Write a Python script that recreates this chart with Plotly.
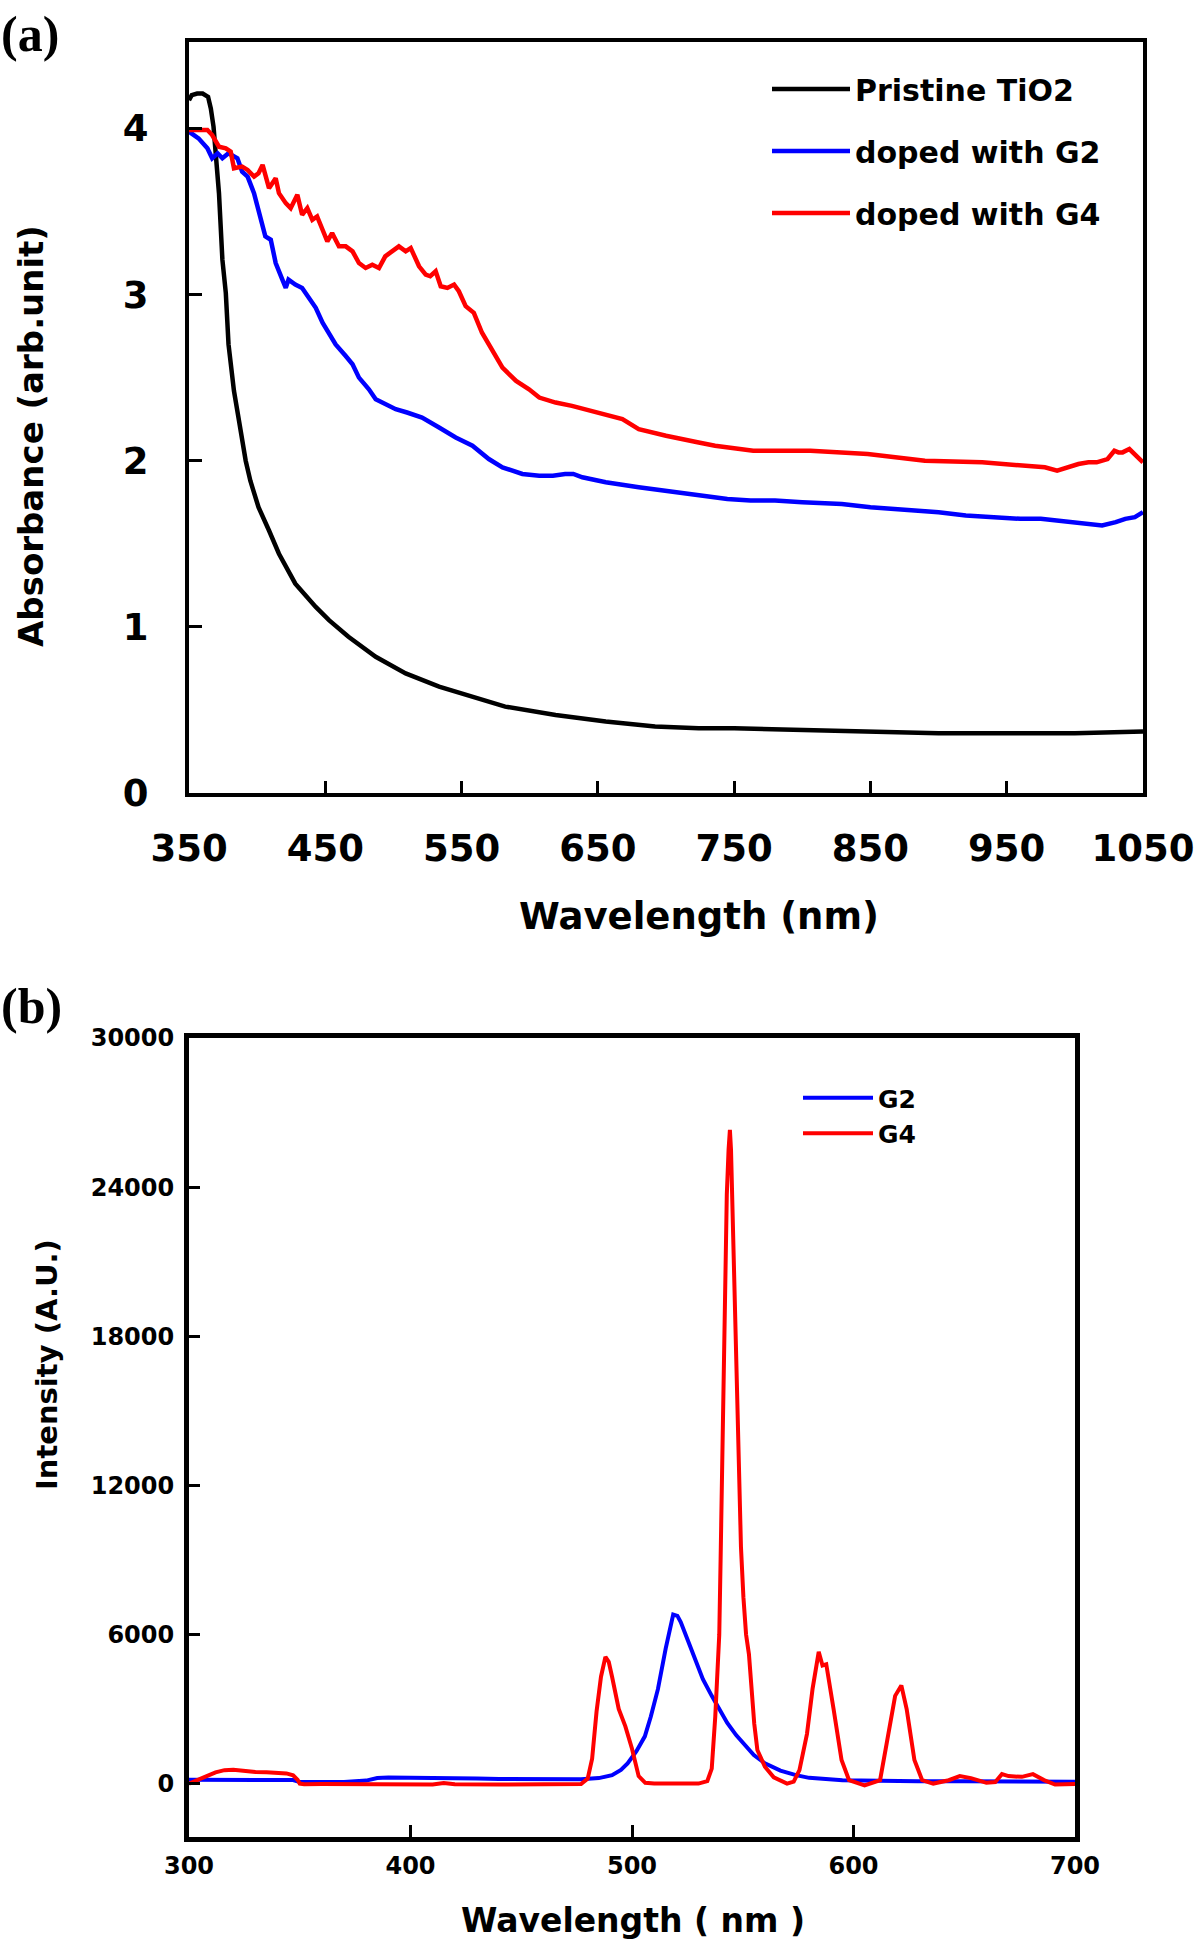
import plotly.graph_objects as go

W, H = 1200, 1945

# ---------------- Panel (a): absorbance ----------------
pristine_wl = [350, 352, 356, 360, 364, 366, 368, 370, 372, 374.5, 377, 379, 381.8, 383, 386.7, 391.6,
               395, 401, 408.7, 416, 428, 443, 452.7, 467, 487, 509, 533.5, 563, 582, 619, 655.8, 692,
               724, 750, 800, 850, 900, 950, 1000, 1050]
pristine_abs = [4.17, 4.20, 4.21, 4.21, 4.19, 4.12, 4.01, 3.80, 3.61, 3.21, 3.01, 2.70, 2.48, 2.42, 2.24,
                2.00, 1.88, 1.72, 1.58, 1.44, 1.26, 1.12, 1.04, 0.94, 0.82, 0.72, 0.64, 0.57, 0.52, 0.47,
                0.43, 0.40, 0.39, 0.39, 0.38, 0.37, 0.36, 0.36, 0.36, 0.37]

g2_wl = [350, 357, 363.5, 367, 371, 374.5, 379, 385.5, 389, 393, 397.7, 401, 406, 410, 413.6, 418.5,
         421, 423, 428, 433, 438, 443, 448, 452.7, 457.6, 465, 470, 474.7, 482, 487, 494, 501.7, 510,
         521, 533.5, 545.7, 558, 570, 580, 594.6, 607, 617, 626, 632, 638.6, 655.8, 680, 700, 724, 745,
         762, 780, 800, 829, 850, 870, 885, 900, 920, 941, 960, 975, 986, 1000, 1010, 1020, 1030, 1037,
         1044, 1050]
g2_abs = [3.98, 3.94, 3.88, 3.82, 3.85, 3.82, 3.85, 3.82, 3.74, 3.71, 3.61, 3.51, 3.35, 3.33, 3.19, 3.09,
          3.04, 3.09, 3.06, 3.04, 2.98, 2.92, 2.83, 2.76, 2.70, 2.63, 2.58, 2.50, 2.43, 2.37, 2.34, 2.31,
          2.29, 2.26, 2.20, 2.14, 2.09, 2.01, 1.96, 1.92, 1.91, 1.91, 1.92, 1.92, 1.90, 1.87, 1.84, 1.82,
          1.79, 1.77, 1.76, 1.76, 1.75, 1.74, 1.72, 1.71, 1.70, 1.69, 1.67, 1.66, 1.65, 1.65, 1.64, 1.63,
          1.62, 1.61, 1.63, 1.65, 1.66, 1.69]

g4_wl = [350, 363.5, 367, 372, 377, 380.6, 383, 389, 393, 397.7, 401, 404, 408.7, 413.6, 416, 421,
         424.6, 429.5, 433, 436.8, 440.5, 444, 448, 451.5, 455, 460, 465, 470, 474.7, 479.6, 484.5,
         489.4, 494, 499, 504, 509, 512.7, 518.8, 523.7, 527, 531, 534.7, 539.6, 544.5, 548, 553, 559,
         565, 572.6, 580, 590, 599.5, 607, 619, 631, 645, 658, 668, 680, 700, 724, 736, 764, 806, 848,
         890, 932, 960, 978, 987, 995, 1002.6, 1010, 1016, 1024, 1029, 1032, 1035, 1040, 1045, 1049,
         1050]
g4_abs = [3.99, 3.99, 3.96, 3.89, 3.88, 3.86, 3.76, 3.77, 3.75, 3.71, 3.73, 3.78, 3.64, 3.70, 3.61, 3.55,
          3.52, 3.60, 3.48, 3.52, 3.45, 3.47, 3.39, 3.32, 3.37, 3.29, 3.29, 3.26, 3.19, 3.16, 3.18,
          3.16, 3.23, 3.26, 3.29, 3.26, 3.28, 3.17, 3.12, 3.11, 3.14, 3.05, 3.04, 3.06, 3.02, 2.93, 2.89,
          2.77, 2.66, 2.56, 2.48, 2.43, 2.38, 2.35, 2.33, 2.30, 2.27, 2.25, 2.19, 2.15, 2.11, 2.09, 2.06,
          2.06, 2.04, 2.00, 1.99, 1.97, 1.96, 1.94, 1.96, 1.98, 1.99, 1.99, 2.01, 2.06, 2.05, 2.05, 2.07,
          2.03, 1.99, 1.99]

a_xticks = [350, 450, 550, 650, 750, 850, 950, 1050]
a_yticks = [0, 1, 2, 3, 4]

# ---------------- Panel (b): emission ----------------
pl_g2_wl = [300, 310, 320, 330, 340, 347, 350, 360, 370, 380, 385, 390, 400, 410, 420, 430, 440, 450,
            460, 470, 477, 485, 491, 495, 498, 502, 505.8, 508.5, 511.7, 515.2, 517, 518.6, 520.5, 522,
            525.5, 529, 532, 536, 540, 543, 547, 550, 555, 560, 567, 574, 580, 595, 610, 629, 650, 664,
            680, 700]
pl_g2_int = [150, 140, 150, 140, 150, 140, 60, 50, 60, 120, 220, 240, 240, 230, 220, 200, 180, 170,
             160, 160, 170, 220, 340, 550, 814, 1300, 1900, 2700, 3800, 5430, 6200, 6800, 6750, 6500,
             5700, 4890, 4200, 3530, 2900, 2440, 1950, 1630, 1150, 814, 520, 340, 230, 135, 110, 95, 90, 95,
             80, 70]

pl_g4_wl = [300, 304, 308, 312, 316, 320, 325, 330, 335, 340, 344, 347, 349, 350, 352, 360, 380, 400,
            410, 415, 420, 440, 460, 477, 480, 482, 484, 486, 488, 489.5, 491, 494, 497, 500, 503, 506,
            510, 520, 530, 534, 536, 537.6, 538.6, 539.4, 540, 540.6, 541.2, 541.8, 542.8, 543.6, 544.2,
            544.7, 545.2, 546.2, 547.2, 548.2, 549.2, 550.3, 551.5, 552.8, 554, 555.2, 556.6, 560, 564,
            567, 570, 573, 575.6, 579, 581.5, 584.3, 586, 587.7, 589, 591, 594.6, 598, 605, 612, 615,
            618.8, 621.6, 624, 627.5, 631, 636, 643, 648, 653, 660, 664, 667, 670, 676, 681, 686, 691,
            700]
pl_g4_int = [0, 130, 300, 450, 540, 560, 500, 470, 460, 450, 410, 330, 150, 0, -30, -20, -40, -60,
             -40, 20, -30, -40, -40, -20, 200, 1000, 2900, 4300, 5100, 4900, 4300, 3000, 2300, 1400, 300,
             30, 0, -20, 0, 100, 600, 2700, 4500, 6000, 9000, 12300, 16300, 20300, 23700, 25500, 26300,
             25500, 23700, 20300, 16300, 12300, 9500, 7500, 6000, 5200, 3600, 2400, 1350, 680, 250,
             130, 0, 80, 540, 2000, 3800, 5300, 4750, 4800, 4000, 3000, 950, 135, -70, 135, 1630,
             3530, 3950, 3000, 950, 135, 0, 135, 300, 220, 30, 60, 380, 300, 270, 380, 140, -40,
             -20]

b_xticks = [300, 400, 500, 600, 700]
b_yticks = [0, 6000, 12000, 18000, 24000, 30000]

FONT = "DejaVu Sans"

fig = go.Figure()
fig.add_trace(go.Scatter(x=pristine_wl, y=pristine_abs, mode="lines", name="Pristine TiO2",
                         line=dict(color="black", width=4.5), xaxis="x", yaxis="y",
                         legend="legend", legendgroup="a1"))
fig.add_trace(go.Scatter(x=g2_wl, y=g2_abs, mode="lines", name="doped with G2",
                         line=dict(color="#0000ff", width=4.5), xaxis="x", yaxis="y",
                         legend="legend", legendgroup="a2"))
fig.add_trace(go.Scatter(x=g4_wl, y=g4_abs, mode="lines", name="doped with G4",
                         line=dict(color="#ff0000", width=4.5), xaxis="x", yaxis="y",
                         legend="legend", legendgroup="a3"))
fig.add_trace(go.Scatter(x=pl_g2_wl, y=pl_g2_int, mode="lines", name="G2",
                         line=dict(color="#0000ff", width=4), xaxis="x2", yaxis="y2",
                         legend="legend2"))
fig.add_trace(go.Scatter(x=pl_g4_wl, y=pl_g4_int, mode="lines", name="G4",
                         line=dict(color="#ff0000", width=4), xaxis="x2", yaxis="y2",
                         legend="legend2"))

def px_x(p):
    return p / W

def px_y(p):
    return 1 - p / H

axis_common = dict(showgrid=False, zeroline=False, showline=True, linecolor="black",
                   mirror=True, ticks="inside", tickcolor="black", tickwidth=3)

fig.update_layout(
    width=W, height=H,
    margin=dict(l=0, r=0, t=0, b=0, autoexpand=False),
    paper_bgcolor="white", plot_bgcolor="white",
    xaxis=dict(domain=[px_x(189), px_x(1143)], range=[350, 1050], tickvals=a_xticks,
               ticklen=12, linewidth=4, anchor="y",
               tickfont=dict(family=FONT, size=37, color="black", weight="bold"),
               ticklabelstandoff=20, **axis_common),
    yaxis=dict(domain=[px_y(793), px_y(42)], range=[0, 4.52], tickvals=a_yticks,
               ticklen=13, linewidth=4, anchor="x",
               tickfont=dict(family=FONT, size=37, color="black", weight="bold"),
               ticklabelstandoff=29, **axis_common),
    xaxis2=dict(domain=[px_x(189), px_x(1075)], range=[300, 700], tickvals=b_xticks,
                ticklen=12, linewidth=5, anchor="y2",
                tickfont=dict(family=FONT, size=24, color="black", weight="bold"),
                ticklabelstandoff=3, **axis_common),
    yaxis2=dict(domain=[px_y(1837), px_y(1038)], range=[-2150, 30000], tickvals=b_yticks,
                tickformat="d",
                ticklen=11, linewidth=5, anchor="x2",
                tickfont=dict(family=FONT, size=24, color="black", weight="bold"),
                ticklabelstandoff=5, **axis_common),
    legend=dict(x=px_x(767), y=px_y(63), xanchor="left", yanchor="top",
                font=dict(family=FONT, size=30, color="black", weight="bold"),
                bgcolor="rgba(0,0,0,0)", itemwidth=78, tracegroupgap=20),
    legend2=dict(x=px_x(798), y=px_y(1075), xanchor="left", yanchor="top",
                 font=dict(family=FONT, size=25, color="black", weight="bold"),
                 bgcolor="rgba(0,0,0,0)", itemwidth=70),
    showlegend=True,
)

ann_font = dict(family=FONT, color="black", weight="bold")
def add_label(text, x, y, size, angle=0, family=None):
    f = dict(size=size, **ann_font)
    if family:
        f["family"] = family
    fig.add_annotation(text=text, x=px_x(x), y=px_y(y), xref="paper", yref="paper",
                       xanchor="center", yanchor="middle", showarrow=False,
                       textangle=angle, font=f)

add_label("Wavelength (nm)", 699, 916, 37)
add_label("Absorbance (arb.unit)", 31, 436, 34, angle=-90)
add_label("Wavelength ( nm )", 633, 1920, 33)
add_label("Intensity (A.U.)", 47, 1365, 29, angle=-90)
add_label("(a)", 30, 34, 50, family="Liberation Serif")
add_label("(b)", 31, 1006, 50, family="Liberation Serif")

fig.write_html("out.html", config={"displayModeBar": False},
               post_script="document.body.style.margin='0';")
